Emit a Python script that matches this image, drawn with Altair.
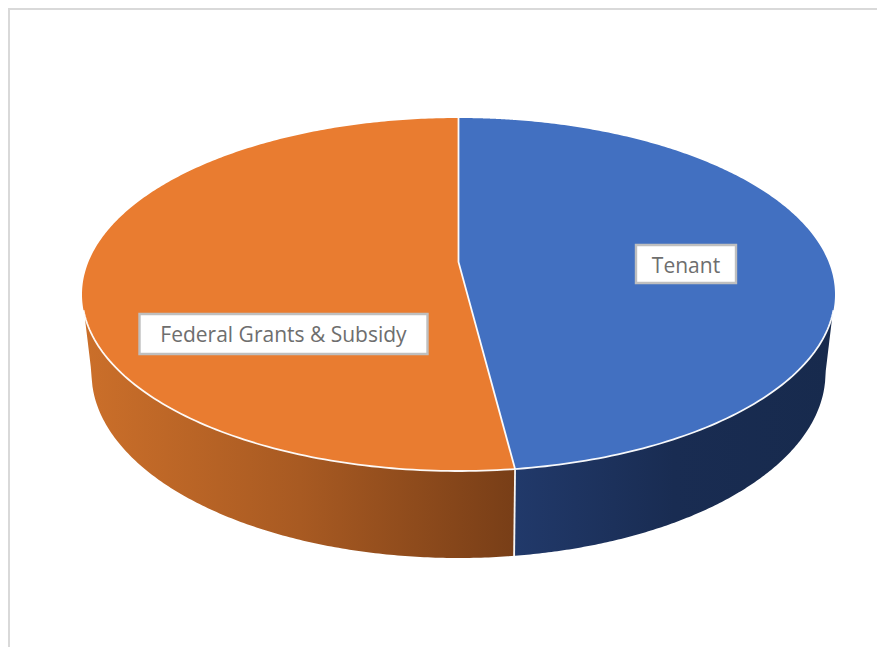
import numpy as np
import pandas as pd
import altair as alt

# data
slice_names = ["Tenant", "Federal Grants & Subsidy"]
slice_shares = [47.6, 52.4]
slice_colors = ["#4270C1", "#E97C30"]

# geometry of the tilted pie, in page pixels
CX, CY, A, B = 458.5, 294.5, 376.5, 176.5      # top face
AX, AY = 458.5, 262.0                          # apex of the slices
CY2, A2, B2 = 373.0, 367.0, 185.0              # bottom rim
W, H = 869, 639

t = 2 * np.pi * slice_shares[0] / sum(slice_shares)
SX, SY = CX + A * np.sin(t), CY - B * np.cos(t)   # point where the slices meet on the rim


def top_up(x):
    return CY - B * np.sqrt(np.clip(1 - ((x - CX) / A) ** 2, 0, 1))


def top_lo(x):
    return CY + B * np.sqrt(np.clip(1 - ((x - CX) / A) ** 2, 0, 1))


def rim_lo(x):
    return CY2 + B2 * np.sqrt(np.clip(1 - ((x - CX) / A2) ** 2, 0, 1))


def radial(x):
    return AY + (SY - AY) * (x - AX) / (SX - AX)


def spaced(x0, x1):
    """x positions evenly spaced along the ellipse angle, dense near the ends."""
    a0 = np.arccos(np.clip((x0 - CX) / A, -1, 1))
    a1 = np.arccos(np.clip((x1 - CX) / A, -1, 1))
    return CX + A * np.cos(np.linspace(a0, a1, 160))


xs_scale = alt.Scale(domain=[8, 8 + W], range=[0, W], nice=False, zero=False)
ys_scale = alt.Scale(domain=[8, 8 + H], range=[0, H], nice=False, zero=False)
X = alt.X("x:Q", scale=xs_scale, axis=None)
Y = alt.Y("y:Q", scale=ys_scale, axis=None)
Y2 = alt.Y2("y2:Q")


def area(df, color):
    return alt.Chart(df).mark_area(color=color, strokeWidth=0, clip=False).encode(x=X, y=Y, y2=Y2)


def line(df, width=1.8):
    return alt.Chart(df).mark_line(color="#FFFFFF", strokeWidth=width, opacity=0.95).encode(x=X, y=Y, order="i:Q")


def gradient(left, mid, right):
    return alt.Gradient(
        gradient="linear", x1=0, x2=1, y1=0, y2=0,
        stops=[alt.GradientStop(offset=0, color=left),
               alt.GradientStop(offset=0.5, color=mid),
               alt.GradientStop(offset=1, color=right)],
    )


# top face, federal slice
xa = spaced(CX - A, AX)
xb = spaced(AX + 0.001, SX)
federal_top = pd.concat([
    pd.DataFrame({"x": xa, "y": top_up(xa), "y2": top_lo(xa)}),
    pd.DataFrame({"x": xb, "y": radial(xb), "y2": top_lo(xb)}),
])
# top face, tenant slice
xc = spaced(AX, SX)
xd = spaced(SX + 0.001, CX + A)
tenant_top = pd.concat([
    pd.DataFrame({"x": xc, "y": top_up(xc), "y2": radial(xc)}),
    pd.DataFrame({"x": xd, "y": top_up(xd), "y2": top_lo(xd)}),
])

# side walls
LEFT, RIGHT = 84.5, 832.5
xe = spaced(LEFT, SX)
ye2 = np.where(xe < CX - A2,
               top_lo(LEFT) + (CY2 - top_lo(LEFT)) * (xe - LEFT) / (CX - A2 - LEFT),
               rim_lo(xe))
federal_side = pd.DataFrame({"x": xe, "y": top_lo(xe), "y2": ye2})
xf = spaced(SX, RIGHT)
yf2 = np.where(xf > CX + A2,
               top_lo(RIGHT) + (CY2 - top_lo(RIGHT)) * (RIGHT - xf) / (RIGHT - CX - A2),
               rim_lo(xf))
tenant_side = pd.DataFrame({"x": xf, "y": top_lo(xf), "y2": yf2})

# white seams
xr = spaced(LEFT - 1, RIGHT + 1)
front_rim = pd.DataFrame({"x": xr, "y": top_lo(xr), "i": np.arange(len(xr))})
radii = pd.DataFrame({"x": [CX, AX, SX], "y": [CY - B, AY, SY], "i": [0, 1, 2]})
side_seam = pd.DataFrame({"x": [SX, SX - 1], "y": [SY + 1, rim_lo(SX - 1) + 1], "i": [0, 1]})

# labels
label_df = pd.DataFrame({
    "name": slice_names,
    "x": [636, 139.5], "x2": [736, 427.5],
    "y": [245, 314], "y2": [283, 354],
    "tx": [686, 283.5], "ty": [266.5, 336],
})
boxes = alt.Chart(label_df).mark_rect(fill="#FFFFFF", stroke="#BFBFBF", strokeWidth=2.4).encode(
    x=X, x2=alt.X2("x2:Q"), y=Y, y2=Y2)
texts = alt.Chart(label_df).mark_text(
    font="Open Sans", fontSize=21, color="#6E6E6E", align="center", baseline="middle"
).encode(x=alt.X("tx:Q", scale=xs_scale, axis=None), y=alt.Y("ty:Q", scale=ys_scale, axis=None), text="name:N")

# frame of the picture
frame_left = alt.Chart(pd.DataFrame({"v": [0]})).mark_rule(color="#D9D9D9", strokeWidth=2).encode(
    x=alt.value(1), y=alt.value(0), y2=alt.value(H))
frame_top = alt.Chart(pd.DataFrame({"v": [0]})).mark_rule(color="#D9D9D9", strokeWidth=2).encode(
    y=alt.value(1), x=alt.value(0), x2=alt.value(W))

chart = alt.layer(
    frame_left, frame_top,
    area(federal_side, gradient("#CB6F2A", "#A85A22", "#783E17")),
    area(tenant_side, gradient("#21396A", "#192C52", "#172A4D")),
    area(federal_top, slice_colors[1]),
    area(tenant_top, slice_colors[0]),
    line(front_rim), line(radii), line(side_seam),
    boxes, texts,
).properties(
    width=W, height=H, padding=0, background="#FFFFFF", autosize=alt.AutoSizeParams(type="none")
).configure_view(stroke=None)

chart.save("out.html", embed_options={"renderer": "svg", "actions": False})
